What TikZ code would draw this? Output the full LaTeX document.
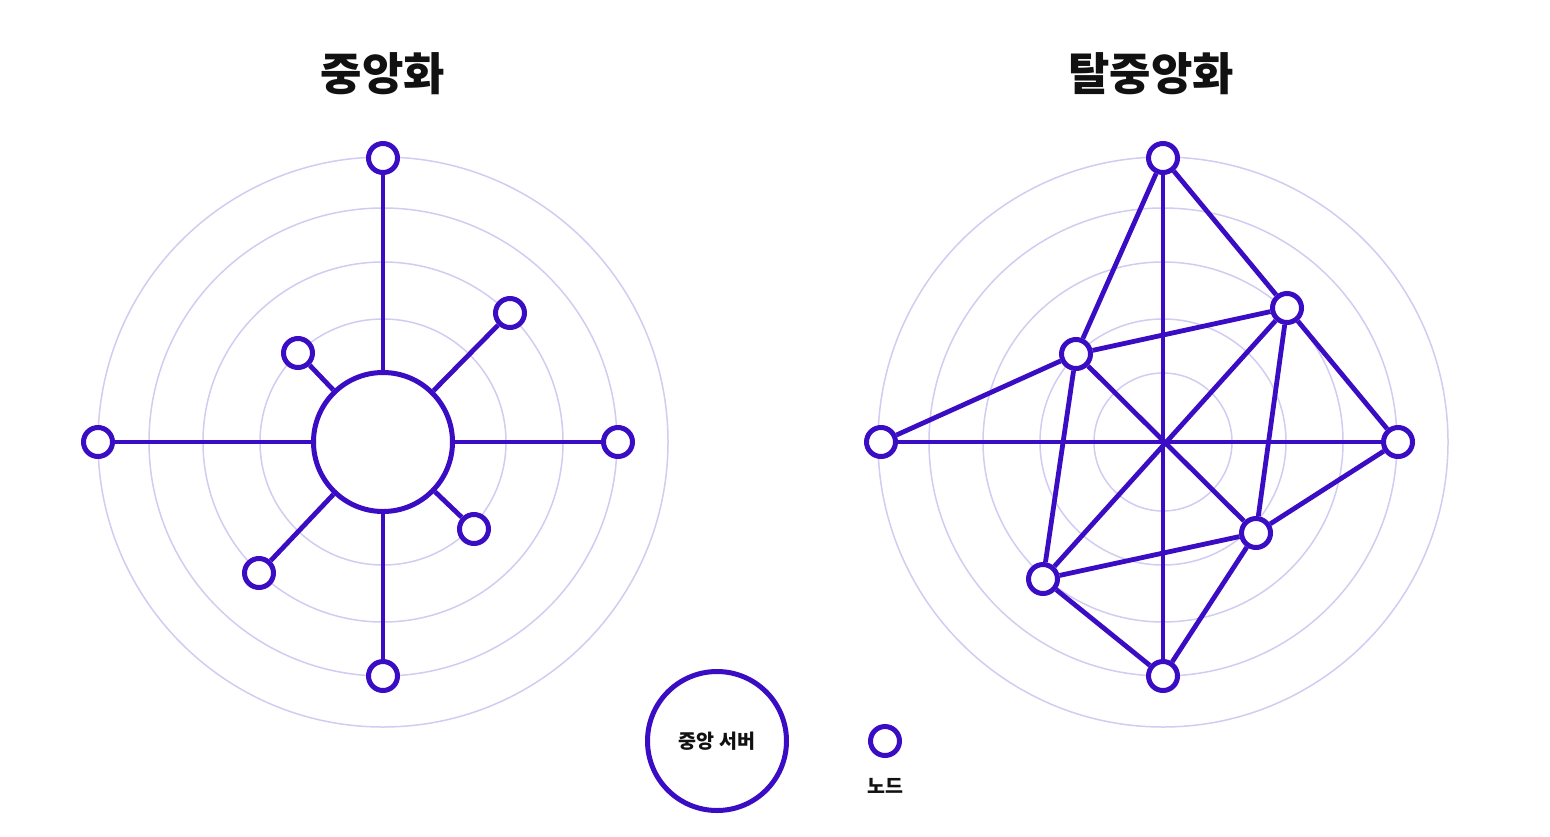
\documentclass[tikz,border=0pt]{standalone}
\usepackage{fontspec}
\setmainfont{Noto Sans CJK KR}
\usepackage{tikz}
\usetikzlibrary{positioning,calc}
\usepackage{xcolor}
\definecolor{dcInk}{HTML}{111111}
\definecolor{dcPurple}{HTML}{3A0CC3}
\definecolor{dcRing}{HTML}{D2CBF2}
\tikzset{
  nd/.style={circle, draw=dcPurple, fill=white, line width=5pt, minimum size=29pt, inner sep=0pt},
  srv/.style={circle, draw=dcPurple, fill=white, line width=5pt, minimum size=139pt, inner sep=0pt, font=\fontsize{19.5pt}{21pt}\selectfont\bfseries, text=dcInk},
  lnk/.style={draw=dcPurple, line width=4.8pt},
  ring/.style={draw=dcRing, line width=1.5pt},
  ttl/.style={font=\fontsize{45pt}{49pt}\selectfont\bfseries, text=dcInk},
  lbl/.style={font=\fontsize{19.5pt}{21pt}\selectfont\bfseries, text=dcInk},
}

\begin{document}
\begin{tikzpicture}[x=1pt,y=-1pt]
            \useasboundingbox (0,0) rectangle (1550,836);
            % titles
            \node[ttl] (tc) at (383,74) {중앙화};
            \node[ttl] (td) at (1151,74) {탈중앙화};
            % rings
            \foreach \r in {123,180,234,285} {
                \draw[ring] (383,442) circle (\r);
            }
            \foreach \r in {69,123,180,234,285} {
                \draw[ring] (1163,442) circle (\r);
            }
            % centralized
            \node[srv] (hub) at (383,442) {};
            \node[nd] (ca) at (383,158) {};
            \node[nd] (cb) at (383,676) {};
            \node[nd] (cl) at (98,442) {};
            \node[nd] (cr) at (618,442) {};
            \node[nd] (cne) at (510,313) {};
            \node[nd] (cnw) at (298,353) {};
            \node[nd] (cse) at (474,529) {};
            \node[nd] (csw) at (259,573) {};
            \foreach \n in {ca,cb,cl,cr,cne,cnw,cse,csw} {
                \draw[lnk] (hub) -- (\n);
            }
            % decentralized
            \coordinate (mid) at (1163,442);
            \node[nd] (da) at (1163,158) {};
            \node[nd] (db) at (1163,676) {};
            \node[nd] (dl) at (881,442) {};
            \node[nd] (dr) at (1398,442) {};
            \node[nd] (dne) at (1287,308) {};
            \node[nd] (dnw) at (1076,354) {};
            \node[nd] (dse) at (1256,533) {};
            \node[nd] (dsw) at (1043,579) {};
            \foreach \a/\b in {da/db, dl/dr, dne/dsw, dnw/dse,
                               da/dnw, da/dne, dne/dnw, dne/dr, dne/dse,
                               dnw/dl, dnw/dsw, dr/dse, dse/dsw, dse/db, dsw/db} {
                \draw[lnk] (\a) -- (\b);
            }
            % legend
            \node[srv] (key1) at (717,741) {중앙 서버};
            \node[nd] (key2) at (885,741) {};
            \node[lbl] (key2t) at (885,786) {노드};
\end{tikzpicture}
\end{document}
